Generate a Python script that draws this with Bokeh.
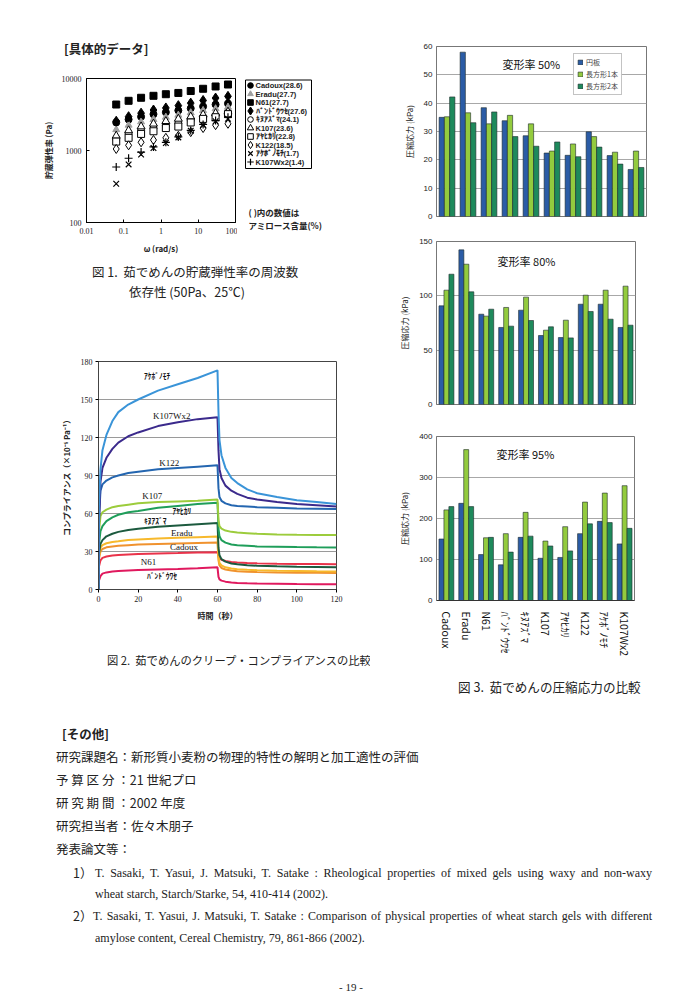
from bokeh.plotting import figure
from bokeh.models import (ColumnDataSource, Legend, LegendItem, Label, FixedTicker,
                          Div, Range1d, FactorRange, Spacer)
from bokeh.layouts import column, row
from bokeh.transform import dodge
from bokeh.core.properties import value
from bokeh.embed import file_html
from bokeh.resources import INLINE

JP = "Noto Sans CJK JP"
SERIF = "Liberation Serif"
SANS = "Liberation Sans"

# ---------------- Fig.1 data: storage modulus G' (Pa) vs omega (rad/s) ----------------
omega = [0.0628, 0.135, 0.292, 0.628, 1.35, 2.92, 6.28, 13.5, 29.2, 62.8]
g_cadoux = [2450, 2700, 2950, 3200, 3400, 3600, 3850, 4100, 4350, 4500]
g_eradu = [1950, 2250, 2500, 2700, 2900, 3100, 3350, 3600, 3800, 4000]
g_n61 = [4350, 4900, 5400, 5750, 6050, 6300, 6700, 7200, 7750, 8250]
g_bandouwase = [2550, 2950, 3300, 3650, 3900, 4200, 4550, 4950, 5350, 5650]
g_kinuazuma = [1450, 1700, 1900, 2050, 2250, 2400, 2650, 2850, 3050, 3350]
g_k107 = [1600, 1900, 2150, 2350, 2550, 2750, 2950, 3150, 3300, 3450]
g_ayahikari = [1330, 1500, 1700, 1850, 2050, 2150, 2450, 2750, 2900, 3200]
g_k122 = [1050, 1180, 1300, 1400, 1500, 1600, 1800, 2050, 2250, 2350]
g_akebono = [345, 640, 880, 1080, 1270, 1520, 1880, 2250, 2550, 2750]
g_k107wx2 = [590, 780, 950, 1120, 1300, 1550, 1900, 2300, 2600, 2900]
fig1_labels = ["Cadoux(28.6)", "Eradu(27.7)", "N61(27.7)", "ﾊﾞﾝﾄﾞｳﾜｾ(27.6)", "ｷﾇｱｽﾞﾏ(24.1)",
               "K107(23.6)", "ｱﾔﾋｶﾘ(22.8)", "K122(18.5)", "ｱｹﾎﾞﾉﾓﾁ(1.7)", "K107Wx2(1.4)"]
fig1_x_ticks = [0.01, 0.1, 1, 10, 100]
fig1_y_ticks = [100, 1000, 10000]

# ---------------- Fig.2 data: creep compliance (x10^-6 Pa^-1) vs time (s) ----------------
t_sec = [0, 0.2, 1, 2, 4, 7, 10, 15, 20, 30, 40, 50, 60, 60.5, 61, 62, 64, 67, 70, 75, 80, 90, 100, 110, 120]
c_akebono = [0, 65, 95, 110, 122, 133, 140, 146, 150, 157, 162, 167, 173, 140, 118, 106, 96, 88, 84, 79, 76, 73, 70.5, 69, 67.5]
c_k107wx2 = [0, 50, 85, 96, 104, 111, 116, 121, 124, 129, 132, 134.5, 136, 110, 95, 88, 82, 78, 75.5, 72.5, 71, 69, 67.5, 66.5, 65.5]
c_k122 = [0, 55, 78, 83, 86, 88.5, 90, 92, 93, 95, 96, 97, 98, 80, 73, 70, 68, 66.5, 66, 65.5, 65, 64.5, 64, 63.8, 63.5]
c_k107 = [0, 45, 58, 61, 63, 65, 66, 67, 68, 69, 69.5, 70, 71, 55, 50, 48, 46.5, 45.5, 45, 44.5, 44, 43.5, 43.2, 43, 43]
c_ayahikari = [0, 35, 46, 50, 54, 57, 59, 61, 62, 64.5, 66, 67.5, 68.5, 48, 42, 39, 37, 35.5, 35, 34.5, 34, 33.8, 33.5, 33.3, 33.2]
c_kinuazuma = [0, 28, 36, 39, 42, 44, 45.5, 47, 48, 49.5, 50.5, 51.5, 52.5, 33, 27, 24, 22, 20.5, 20, 19.2, 18.8, 18.3, 18, 17.8, 17.6]
c_eradu = [0, 26, 33, 35, 36.5, 37.5, 38, 39, 39.5, 40.2, 40.8, 41.3, 41.8, 26, 21, 19, 17.5, 16.5, 16, 15.5, 15.2, 14.8, 14.6, 14.4, 14.3]
c_cadoux = [0, 24, 30, 32, 33.3, 34, 34.5, 35, 35.5, 36, 36.4, 36.8, 37.2, 23, 19, 17, 15.8, 15, 14.5, 14, 13.8, 13.5, 13.3, 13.2, 13.1]
c_n61 = [0, 18, 23, 25, 26, 26.8, 27.2, 27.6, 28, 28.5, 28.8, 29.2, 29.5, 26, 24.5, 23.5, 22.5, 21.8, 21.4, 21, 20.7, 20.4, 20.2, 20.1, 20]
c_bandouwase = [0, 7, 10.5, 12.5, 13.5, 14.2, 14.6, 15, 15.3, 15.8, 16.2, 16.8, 17.5, 10, 8, 7, 6.2, 5.6, 5.2, 4.9, 4.7, 4.5, 4.3, 4.2, 4.1]
fig2_x_ticks = [0, 20, 40, 60, 80, 100, 120]
fig2_y_ticks = [0, 30, 60, 90, 120, 150, 180]

# ---------------- Fig.3 data: compressive stress (kPa) ----------------
varieties = ["Cadoux", "Eradu", "N61", "ﾊﾞﾝﾄﾞｳﾜｾ", "ｷﾇｱｽﾞﾏ", "K107", "ｱﾔﾋｶﾘ", "K122", "ｱｹﾎﾞﾉﾓﾁ", "K107Wx2"]
series_names = ["円板", "長方形1本", "長方形2本"]
disk_50 = [35.0, 58.0, 38.4, 33.8, 28.5, 22.4, 21.6, 29.9, 21.5, 16.6]
rect1_50 = [35.2, 36.6, 32.7, 35.7, 32.7, 23.1, 25.6, 28.2, 22.7, 23.1]
rect2_50 = [42.2, 33.1, 36.9, 28.2, 24.8, 26.3, 21.1, 24.5, 18.5, 17.3]
disk_80 = [90.8, 142.3, 83.1, 70.9, 86.8, 63.5, 61.6, 92.3, 92.3, 70.9]
rect1_80 = [105.2, 129.1, 81.3, 89.3, 98.8, 68.4, 77.6, 100.6, 105.2, 108.9]
rect2_80 = [119.9, 103.7, 87.7, 72.1, 77.3, 71.5, 61.3, 85.6, 78.5, 73.0]
disk_95 = [150, 237, 112, 87, 154, 103, 105, 163, 193, 138]
rect1_95 = [221, 368, 153, 163, 215, 145, 180, 240, 262, 280]
rect2_95 = [229, 229, 154, 118, 157, 133, 121, 187, 190, 176]

C_DISK = "#2b5ca6"
C_R1 = "#93cb3e"
C_R2 = "#1e8a5c"


def base_fig(fw, fh, l, r, t, b, **kw):
    p = figure(frame_width=fw, frame_height=fh, min_border_left=l, min_border_right=r,
               min_border_top=t, min_border_bottom=b, output_backend="svg",
               toolbar_location=None, title=None, **kw)
    p.background_fill_color = "white"
    p.border_fill_color = "white"
    return p


# ================= Fig.1 =================
p1 = base_fig(149, 144, 78, 2, 18, 36, x_axis_type="log", y_axis_type="log",
              x_range=Range1d(0.01, 100), y_range=Range1d(100, 10000))
p1.grid.visible = False
p1.outline_line_color = "black"
for ax in (p1.xaxis[0], p1.yaxis[0]):
    ax.axis_line_color = "black"
    ax.major_tick_in = 3
    ax.major_tick_out = 0
    ax.minor_tick_line_color = None
    ax.major_label_text_font = SERIF
    ax.major_label_text_font_size = "8px"
    ax.major_label_text_color = "#222"
    ax.axis_label_text_font = JP
    ax.axis_label_text_font_size = "8px"
    ax.axis_label_text_font_style = "bold"
    ax.axis_label_text_color = "#222"
p1.xaxis.ticker = FixedTicker(ticks=fig1_x_ticks)
p1.yaxis.ticker = FixedTicker(ticks=fig1_y_ticks)
p1.xaxis.major_label_overrides = {0.01: "0.01", 0.1: "0.1", 1: "1", 10: "10", 100: "100"}
p1.yaxis.major_label_overrides = {100: "100", 1000: "1000", 10000: "10000"}
p1.xaxis.axis_label = "ω (rad/s)"
p1.yaxis.axis_label = "貯蔵弾性率 (Pa)"
p1.xaxis.major_label_standoff = 5
p1.yaxis.major_label_standoff = 5
p1.xaxis.axis_label_standoff = 6
p1.yaxis.axis_label_standoff = 5

fig1_series = [g_cadoux, g_eradu, g_n61, g_bandouwase, g_kinuazuma, g_k107, g_ayahikari,
               g_k122, g_akebono, g_k107wx2]
fig1_styles = [
    dict(marker="circle", size=7, fill_color="black", line_color="black"),
    dict(marker="triangle", size=7, fill_color="#a0a0a0", line_color="#a0a0a0"),
    dict(marker="square", size=7, fill_color="black", line_color="black"),
    dict(marker="diamond", size=10, fill_color="black", line_color="black"),
    dict(marker="circle", size=7, fill_color="white", line_color="black"),
    dict(marker="triangle", size=8, fill_color="white", line_color="black"),
    dict(marker="square", size=7, fill_color="white", line_color="black"),
    dict(marker="diamond", size=9, fill_color="white", line_color="black"),
    dict(marker="x", size=8, line_color="black", line_width=1.2),
    dict(marker="cross", size=8, line_color="black", line_width=1.2),
]
for ys, st in zip(fig1_series, fig1_styles):
    p1.scatter(x=omega, y=ys, **st)

# side panel of Fig.1 (pixel-like coordinates): legend box and note
p1b = figure(frame_width=133, frame_height=186, min_border_left=0, min_border_right=0,
             min_border_top=12, min_border_bottom=0, output_backend="svg",
             toolbar_location=None, title=None, x_axis_location=None, y_axis_location=None,
             x_range=Range1d(0, 133), y_range=Range1d(0, 186))
p1b.grid.visible = False
p1b.outline_line_color = None
p1b.background_fill_color = "white"
p1b.border_fill_color = "white"
p1b.quad(left=[8], right=[74], bottom=[96], top=[184.5], fill_color="white",
         line_color="black", line_width=1)
row_y = [179 - 8.5 * i for i in range(len(fig1_labels))]
for yy, st in zip(row_y, fig1_styles):
    st2 = dict(st)
    st2["size"] = st["size"] * 0.8
    p1b.scatter(x=[13], y=[yy], **st2)
p1b.text(x=[18] * len(fig1_labels), y=row_y, text=fig1_labels, text_font=value(SANS),
         text_font_size=value("7.5px"), text_font_style="bold", text_color="#222",
         text_baseline="middle", text_align="left")
p1b.add_layout(Label(x=11, y=53, text="( )内の数値は", text_font=JP, text_font_size="8.5px",
                     text_font_style="bold", text_baseline="middle", text_color="#222"))
p1b.add_layout(Label(x=11, y=40, text="アミロース含量(%)", text_font=JP, text_font_size="8.5px",
                     text_font_style="bold", text_baseline="middle", text_color="#222"))

# ================= Fig.2 =================
p2 = base_fig(238, 228, 90, 34, 51, 36, x_range=Range1d(0, 120), y_range=Range1d(0, 180))
p2.xgrid.visible = False
p2.ygrid.grid_line_color = "#9a9a9a"
p2.ygrid.grid_line_width = 1
p2.outline_line_color = "#444"
p2.xaxis.ticker = FixedTicker(ticks=fig2_x_ticks)
p2.yaxis.ticker = FixedTicker(ticks=fig2_y_ticks)
for ax in (p2.xaxis[0], p2.yaxis[0]):
    ax.axis_line_color = "#444"
    ax.major_tick_in = 0
    ax.major_tick_out = 3
    ax.minor_tick_line_color = None
    ax.major_label_text_font = SERIF
    ax.major_label_text_font_size = "8px"
    ax.major_label_text_color = "#222"
    ax.axis_label_text_font = JP
    ax.axis_label_text_font_size = "8px"
    ax.axis_label_text_font_style = "bold"
    ax.axis_label_text_color = "#222"
    ax.major_label_standoff = 3
p2.xaxis.axis_label = "時間（秒）"
p2.yaxis.axis_label = "コンプライアンス（×10⁻⁶ Pa⁻¹）"
p2.xaxis.axis_label_standoff = 5
p2.yaxis.axis_label_standoff = 6

fig2_series = [c_bandouwase, c_n61, c_cadoux, c_eradu, c_kinuazuma, c_ayahikari, c_k107,
               c_k122, c_k107wx2, c_akebono]
fig2_colors = ["#e0195e", "#e9334a", "#f0922e", "#f7b92c", "#1c5a3e", "#1f9e5a", "#9ccc3c",
               "#2466b0", "#3b2a8c", "#3a94d8"]
for ys, col in zip(fig2_series, fig2_colors):
    p2.line(t_sec, ys, line_color=col, line_width=2)

fig2_lab = [("ｱｹﾎﾞﾉﾓﾁ", 23, 168.7, JP), ("K107Wx2", 27.5, 137, SERIF), ("K122", 30.6, 99.5, SERIF),
            ("K107", 22, 74, SERIF), ("ｱﾔﾋｶﾘ", 37.3, 62.3, JP), ("ｷﾇｱｽﾞﾏ", 23, 54.4, JP),
            ("Eradu", 36.5, 44.8, SERIF), ("Cadoux", 36, 33.8, SERIF), ("N61", 21.3, 22, SERIF),
            ("ﾊﾞﾝﾄﾞｳﾜｾ", 24.4, 11, JP)]
for txt_, lx, ly, fnt in fig2_lab:
    if fnt == JP:
        p2.add_layout(Label(x=lx, y=ly, text=txt_, text_font=JP, text_font_size="7.5px",
                            text_font_style="bold", text_baseline="middle", text_color="#111"))
    else:
        p2.add_layout(Label(x=lx, y=ly, text=txt_, text_font=SERIF, text_font_size="9px",
                            text_baseline="middle", text_color="#111"))


# ================= Fig.3 bar charts =================
def bar_chart(disk, r1, r2, ymax, step, title, fw, fh, l, r, t, b, tx, ty, show_x=False,
              legend=False):
    p = base_fig(fw, fh, l, r, t, b, x_range=FactorRange(*varieties),
                 y_range=Range1d(0, ymax), x_axis_location=("below" if show_x else None))
    src = ColumnDataSource(dict(cat=varieties, d=disk, r1=r1, r2=r2))
    rend = []
    for col_name, off, colr in (("d", -0.25, C_DISK), ("r1", 0.0, C_R1), ("r2", 0.25, C_R2)):
        rr = p.vbar(x=dodge("cat", off, range=p.x_range), top=col_name, width=0.25, source=src,
                    fill_color=colr, line_color="#1d2a2a", line_width=0.6)
        rend.append(rr)
    p.xgrid.visible = False
    p.ygrid.grid_line_color = "#a8a8a8"
    p.outline_line_color = "#777"
    p.yaxis.ticker = FixedTicker(ticks=list(range(0, ymax + 1, step)))
    ya = p.yaxis[0]
    ya.axis_line_color = "#777"
    ya.major_tick_out = 0
    ya.major_tick_in = 0
    ya.minor_tick_line_color = None
    ya.major_label_text_font = SANS
    ya.major_label_text_font_size = "8px"
    ya.major_label_text_color = "#222"
    ya.major_label_standoff = 4
    ya.axis_label = "圧縮応力 (kPa)"
    ya.axis_label_text_font = JP
    ya.axis_label_text_font_size = "8px"
    ya.axis_label_text_font_style = "normal"
    ya.axis_label_text_color = "#222"
    ya.axis_label_standoff = 6
    if show_x:
        xa = p.xaxis[0]
        xa.major_label_orientation = "vertical"
        xa.major_label_text_font = JP
        xa.major_label_text_font_size = "10.5px"
        xa.major_label_text_color = "#111"
        xa.major_tick_line_color = None
        xa.axis_line_color = "#333"
        xa.major_label_standoff = 5
    p.add_layout(Label(x=tx, y=ty, text=title, text_font=JP, text_font_size="11px",
                       text_baseline="middle", text_color="#111"))
    if legend:
        lg = Legend(items=[LegendItem(label=n, renderers=[rr]) for n, rr in zip(series_names, rend)],
                    border_line_color="#888", border_line_width=0.8,
                    label_text_font=JP, label_text_font_size="7px", label_height=8,
                    glyph_height=6, glyph_width=6, spacing=2, padding=3, label_standoff=3,
                    margin=0)
        p.add_layout(lg)
        lg.location = (137, 121)
    return p


b1 = bar_chart(disk_50, rect1_50, rect2_50, 60, 10, "変形率 50%", 210, 170, 59, 53, 38, 9,
               3.14, 54, legend=True)
b2 = bar_chart(disk_80, rect1_80, rect2_80, 150, 50, "変形率 80%", 199, 163, 64, 59, 16, 16,
               3.07, 132.5)
b3 = bar_chart(disk_95, rect1_95, rect2_95, 400, 100, "変形率 95%", 198, 164, 66, 58, 16, 65,
               3.03, 358.5, show_x=True)


# ================= Text blocks =================
def txt(x, cy, s, size, font=JP, weight="normal", color="#222", extra="", lh=None):
    lh = lh or round(size * 1.4)
    return (f'<div style="position:absolute;left:{x}px;top:{cy - lh / 2:.1f}px;'
            f"font-family:'{font}';font-size:{size}px;font-weight:{weight};line-height:{lh}px;"
            f'color:{color};white-space:nowrap;{extra}">{s}</div>')


def block(w, h, ox, oy, items):
    inner = "".join(txt(x - ox, cy - oy, *rest, **kw) for (x, cy, *rest), kw in items)
    html = f'<div style="position:relative;width:{w}px;height:{h}px;overflow:hidden">{inner}</div>'
    return Div(text=html, width=w, height=h, margin=0)


title_div = block(362, 52, 8, 8, [((64, 49, "[具体的データ]", 12.5, JP, "bold"), {})])
cap1 = block(362, 52, 8, 258, [((92, 272, "図 1.&nbsp; 茹でめんの貯蔵弾性率の周波数", 12.5), {}),
                                ((129, 292, "依存性 (50Pa、25℃)", 12.5), {})])
cap2 = block(362, 75, 8, 625, [((107, 660, "図 2.&nbsp; 茹でめんのクリープ・コンプライアンスの比較", 11.3), {})])
cap3 = block(322, 35, 370, 665, [((458, 687, "図 3.&nbsp; 茹でめんの圧縮応力の比較", 12.6), {})])

ref_extra = "white-space:normal;width:557px;text-align:justify;text-align-last:justify;"
bottom = block(684, 296, 8, 700, [
    ((62, 734, "[その他]", 12.5, JP, "bold"), {}),
    ((56, 757, "研究課題名：新形質小麦粉の物理的特性の解明と加工適性の評価", 12.5), {}),
    ((56, 780, "予 算 区 分 ：21 世紀プロ", 12.5), {}),
    ((56, 803, "研 究 期 間 ：2002 年度", 12.5), {}),
    ((56, 826, "研究担当者：佐々木朋子", 12.5), {}),
    ((56, 849, "発表論文等：", 12.5), {}),
    ((73, 873, "1）", 12.5), {}),
    ((95, 873, "T. Sasaki, T. Yasui, J. Matsuki, T. Satake : Rheological properties of mixed gels using waxy and non-waxy", 12, SERIF), dict(extra=ref_extra)),
    ((95, 894, "wheat starch, Starch/Starke, 54, 410-414 (2002).", 12, SERIF), {}),
    ((73, 916, "2）", 12.5), {}),
    ((93, 916, "T. Sasaki, T. Yasui, J. Matsuki, T. Satake : Comparison of physical properties of wheat starch gels with different", 12, SERIF), dict(extra=ref_extra.replace("557", "559"))),
    ((95, 938, "amylose content, Cereal Chemistry, 79, 861-866 (2002).", 12, SERIF), {}),
    ((339, 987, "- 19 -", 11, SERIF), dict(lh=13)),
])

left = column(title_div, row(p1, p1b, spacing=0), cap1, p2, cap2, spacing=0)
right = column(b1, b2, b3, cap3, spacing=0)
content = column(row(left, right, spacing=0), bottom, spacing=0)
# the standalone page template has no body margin: reproduce the 8px page margin
page = column(Spacer(width=1, height=8), row(Spacer(width=8, height=1), content, spacing=0),
              spacing=0)

open("out.html", "w").write(file_html(page, INLINE))
